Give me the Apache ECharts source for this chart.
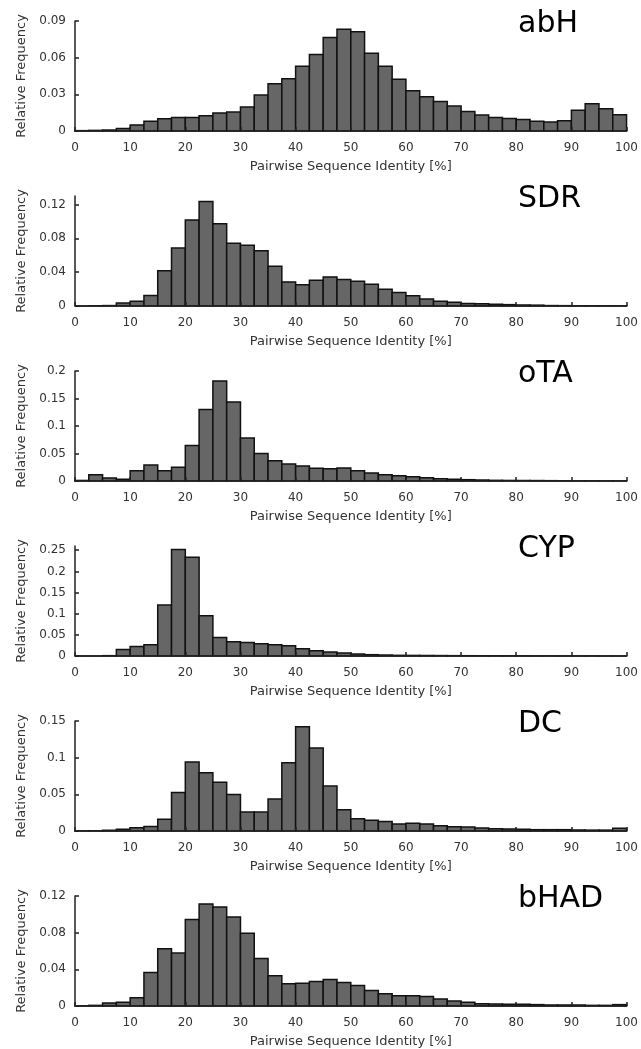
<!DOCTYPE html>
<html>
<head>
<meta charset="utf-8">
<script src="https://cdn.jsdelivr.net/npm/echarts@6/dist/echarts.min.js"></script>
<style>
  html, body { margin: 0; padding: 0; background: #fff; }
  #chart { width: 641px; height: 1049px; }
</style>
</head>
<body>
<div id="chart"></div>
<script>
// bin edges of the histograms (2.5 % wide)
const binEdges = [0, 2.5, 5, 7.5, 10, 12.5, 15, 17.5, 20, 22.5, 25, 27.5, 30, 32.5, 35, 37.5, 40, 42.5, 45, 47.5, 50,
  52.5, 55, 57.5, 60, 62.5, 65, 67.5, 70, 72.5, 75, 77.5, 80, 82.5, 85, 87.5, 90, 92.5, 95, 97.5, 100]

const panelNames = ['abH', 'SDR', 'oTA', 'CYP', 'DC', 'bHAD']

const abH = [0.0003, 0.0005, 0.0008, 0.002, 0.005, 0.008, 0.010, 0.011, 0.011, 0.0125,
  0.0147, 0.0155, 0.0196, 0.0294, 0.0386, 0.0427, 0.053, 0.0625, 0.0764, 0.0832,
  0.0813, 0.0636, 0.053, 0.0424, 0.0329, 0.028, 0.0242, 0.0204, 0.016, 0.013,
  0.0111, 0.0103, 0.0095, 0.0079, 0.0073, 0.0084, 0.0169, 0.0223, 0.0182, 0.0133]

const SDR = [0, 0.0003, 0.0005, 0.0035, 0.0055, 0.0125, 0.0418, 0.0684, 0.1016, 0.1235,
  0.0973, 0.0743, 0.0719, 0.0653, 0.0469, 0.0285, 0.025, 0.0305, 0.0344, 0.0313,
  0.0293, 0.0258, 0.0199, 0.016, 0.0121, 0.0082, 0.0055, 0.0043, 0.0031, 0.0027,
  0.002, 0.0016, 0.0012, 0.001, 0.0005, 0.0004, 0.0003, 0.0003, 0.0002, 0.0002]

const oTA = [0.001, 0.0115, 0.0054, 0.003, 0.0187, 0.029, 0.0187, 0.0248, 0.0647, 0.13,
  0.182, 0.1438, 0.078, 0.050, 0.0369, 0.0308, 0.0272, 0.023, 0.0224, 0.0236,
  0.0187, 0.0145, 0.0115, 0.0097, 0.0079, 0.006, 0.0042, 0.003, 0.0024, 0.0018,
  0.0012, 0.001, 0.0009, 0.0008, 0.0006, 0.0004, 0.0003, 0.0003, 0.0002, 0.0002]

const CYP = [0, 0, 0.0008, 0.0156, 0.0227, 0.0266, 0.1203, 0.2516, 0.2336, 0.0953,
  0.0438, 0.0336, 0.032, 0.0289, 0.0266, 0.0242, 0.0172, 0.0125, 0.0094, 0.007,
  0.0047, 0.0031, 0.0023, 0.0016, 0.0014, 0.0012, 0.001, 0.0008, 0.0007, 0.0006,
  0.0005, 0.0004, 0.0004, 0.0003, 0.0003, 0.0002, 0.0002, 0.0002, 0.0001, 0.0001]

const DC = [0.0002, 0.0003, 0.001, 0.0023, 0.0045, 0.0063, 0.0159, 0.0526, 0.0942, 0.0793,
  0.0666, 0.0498, 0.0258, 0.0258, 0.0435, 0.0929, 0.1423, 0.1133, 0.0612, 0.029,
  0.0168, 0.0145, 0.0131, 0.0095, 0.0104, 0.0095, 0.0073, 0.0059, 0.0054, 0.0041,
  0.0032, 0.0027, 0.0023, 0.0018, 0.0018, 0.0018, 0.0014, 0.0012, 0.0012, 0.0036]

const bHAD = [0.0002, 0.0007, 0.0033, 0.004, 0.0091, 0.0366, 0.0624, 0.0577, 0.0943, 0.1113,
  0.108, 0.0972, 0.0794, 0.0519, 0.033, 0.0243, 0.0247, 0.0268, 0.029, 0.0257,
  0.0225, 0.017, 0.0134, 0.0112, 0.0112, 0.0105, 0.0076, 0.0054, 0.004, 0.0025,
  0.0022, 0.0018, 0.0018, 0.0015, 0.0011, 0.0011, 0.0011, 0.0007, 0.0007, 0.0015]

const panelValues = [abH, SDR, oTA, CYP, DC, bHAD]

// y axis upper limits and tick labels
const yMax = [0.09, 0.13, 0.2, 0.26, 0.15, 0.12]
const yTicks = [
  [0, 0.03, 0.06, 0.09],
  [0, 0.04, 0.08, 0.12],
  [0, 0.05, 0.1, 0.15, 0.2],
  [0, 0.05, 0.1, 0.15, 0.2, 0.25],
  [0, 0.05, 0.1, 0.15],
  [0, 0.04, 0.08, 0.12]
]

const xTitle = 'Pairwise Sequence Identity [%]'
const yTitle = 'Relative Frequency'

const FONT = 'DejaVu Sans'
const PANEL_STEP = 175

const chart = echarts.init(document.getElementById('chart'))

const grids = []
const xAxes = []
const yAxes = []
const titles = []
const series = []

panelNames.forEach((name, k) => {
  grids.push({ left: 75, width: 554, top: 21 + PANEL_STEP * k, height: 110 })

  xAxes.push({
    type: 'value',
    gridIndex: k,
    min: 0,
    max: 100,
    interval: 10,
    z: 5,
    name: xTitle,
    nameLocation: 'middle',
    nameGap: 29,
    nameTextStyle: { fontFamily: FONT, fontSize: 13, color: '#333' },
    axisLine: { lineStyle: { color: '#222', width: 1.5 } },
    axisTick: { inside: true, length: 4, lineStyle: { color: '#222', width: 1.5 } },
    axisLabel: { fontFamily: FONT, fontSize: 12, color: '#333', margin: 11 },
    splitLine: { show: false }
  })

  yAxes.push({
    type: 'value',
    gridIndex: k,
    min: 0,
    max: yMax[k],
    z: 5,
    name: yTitle,
    nameLocation: 'middle',
    nameGap: 46,
    nameTextStyle: { fontFamily: FONT, fontSize: 13, color: '#333' },
    axisLine: { show: true, lineStyle: { color: '#222', width: 1.5 } },
    axisTick: { show: true, inside: true, length: 4, customValues: yTicks[k], lineStyle: { color: '#222', width: 1.5 } },
    axisLabel: { fontFamily: FONT, fontSize: 12, color: '#333', margin: 9, customValues: yTicks[k] },
    splitLine: { show: false }
  })

  titles.push({
    text: name,
    left: 518,
    top: 9 + PANEL_STEP * k,
    padding: 0,
    textStyle: { fontFamily: FONT, fontSize: 30, fontWeight: 'normal', color: '#000' }
  })

  const values = panelValues[k]
  series.push({
    type: 'custom',
    xAxisIndex: k,
    yAxisIndex: k,
    z: 2,
    data: values.map((v, i) => [binEdges[i], binEdges[i + 1], v]),
    renderItem: (params, api) => {
      const topLeft = api.coord([api.value(0), api.value(2)])
      const bottomRight = api.coord([api.value(1), 0])
      return {
        type: 'rect',
        shape: {
          x: topLeft[0],
          y: topLeft[1],
          width: bottomRight[0] - topLeft[0],
          height: bottomRight[1] - topLeft[1]
        },
        style: { fill: '#666666', stroke: '#111', lineWidth: 1.5 }
      }
    }
  })
})

chart.setOption({
  animation: false,
  backgroundColor: '#fff',
  title: titles,
  grid: grids,
  xAxis: xAxes,
  yAxis: yAxes,
  series: series
})
</script>
</body>
</html>
